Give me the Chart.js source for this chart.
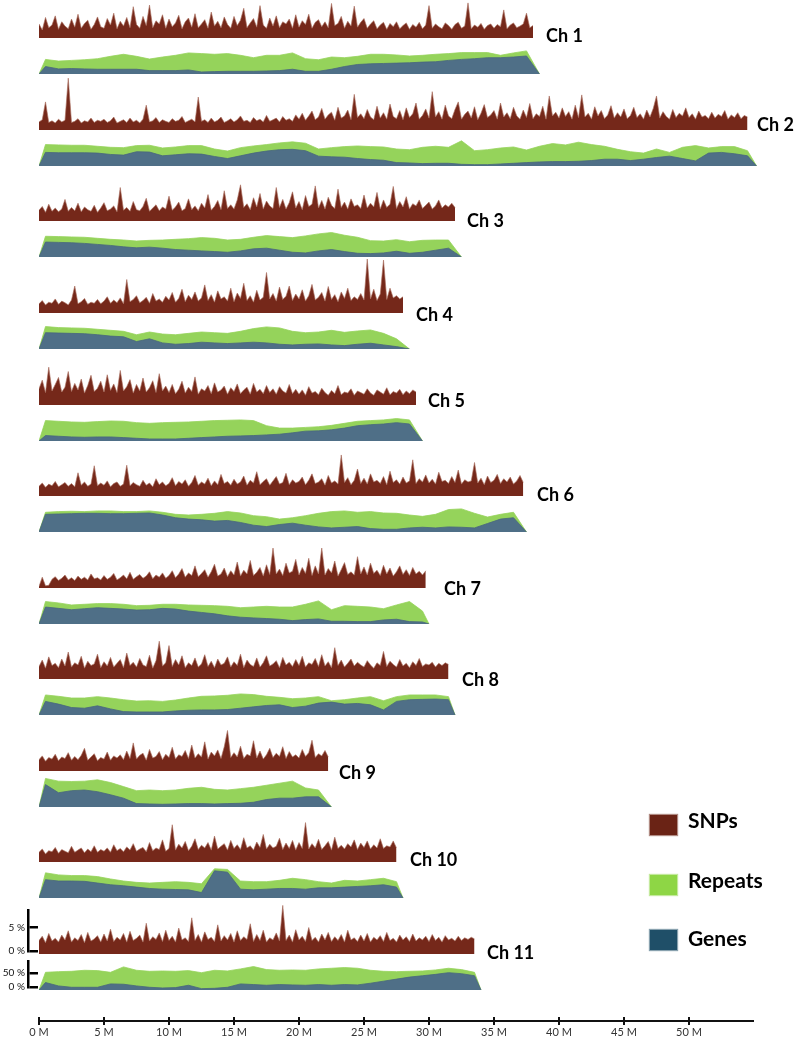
<!DOCTYPE html>
<html>
<head>
<meta charset="utf-8">
<script src="https://cdn.jsdelivr.net/npm/chart.js@4.4.1/dist/chart.umd.min.js"></script>
<style>
  html, body { margin: 0; padding: 0; background: #fff; }
  #root { position: relative; width: 796px; height: 1037px; overflow: hidden; background: #fff; font-family: Lato, "Open Sans", sans-serif; }
  #root canvas { position: absolute; }
  .chlbl { position: absolute; font: bold 18px Lato, sans-serif; color: #000; line-height: 18px; white-space: nowrap; }
  .lgsw { position: absolute; width: 27px; height: 20px; }
  .lgtx { position: absolute; font: bold 21px Lato, sans-serif; color: #000; line-height: 21px; white-space: nowrap; }
</style>
</head>
<body>
<div id="root"></div>
<script>
// ---------------- DATA ----------------
const chromNames = ['Ch 1','Ch 2','Ch 3','Ch 4','Ch 5','Ch 6','Ch 7','Ch 8','Ch 9','Ch 10','Ch 11'];
const chromLengthMb = [38.5, 55.2, 32.5, 28.5, 29.5, 37.5, 30.0, 32.0, 22.5, 28.0, 34.0];
const snpStepMb = 0.25;  // SNP density bins (%), first bin at 0 Mb
const binStepMb = 1;     // repeats / genes bins (%), centred at 0.5, 1.5, ...

const snpCh1 = [
  2.6,1.5,3.8,1.9,2.4,4.1,1.6,3.0,2.2,1.7,3.5,2.0,4.4,1.8,2.7,3.3,1.6,2.5,3.9,2.1,
  1.8,3.6,2.4,4.6,1.7,3.1,2.2,3.8,1.9,5.8,2.5,1.8,4.0,2.3,6.1,1.9,3.2,2.6,4.3,1.8,
  3.5,2.1,2.8,4.2,1.7,3.0,3.7,2.0,4.5,1.9,2.6,3.4,1.8,4.8,2.2,3.1,1.9,3.9,2.5,1.8,
  4.0,2.3,3.3,5.5,1.9,2.8,3.6,2.0,6.0,2.4,1.8,3.7,2.2,4.1,1.9,3.0,2.6,3.5,1.8,4.3,
  2.0,3.2,2.5,4.4,1.8,2.9,3.4,2.1,3.0,1.9,6.4,2.3,2.7,4.0,1.8,3.1,2.2,5.9,2.0,2.9,
  3.6,1.8,2.6,3.2,1.7,2.4,2.9,1.6,2.7,2.1,3.0,1.7,2.3,2.8,1.6,2.5,2.0,2.9,1.7,2.4,
  6.0,1.8,2.6,2.1,1.7,2.8,2.3,1.6,2.5,2.9,1.8,2.2,6.5,1.7,2.4,2.0,2.7,1.6,2.3,2.6,
  1.8,2.5,2.1,5.2,1.7,2.4,2.8,1.9,2.2,2.6,4.6,1.9,2.3];
const snpCh2 = [
  1.5,1.9,5.2,1.4,1.7,1.3,2.0,1.5,1.8,9.6,1.4,1.6,2.1,1.3,1.7,1.5,2.2,1.4,1.8,1.6,
  2.0,1.4,1.7,2.4,1.3,1.6,1.9,1.4,2.2,1.5,1.8,1.3,2.0,4.6,1.5,1.7,2.3,1.4,1.9,1.6,
  1.4,2.1,1.6,1.8,2.5,1.4,1.7,2.0,1.5,6.1,1.6,1.9,1.4,2.2,1.5,1.8,2.4,1.4,1.7,2.1,
  1.5,1.9,2.6,1.6,1.8,1.4,2.3,1.7,2.0,1.5,2.7,1.6,1.9,2.2,1.5,2.5,1.8,2.1,1.6,2.8,
  2.0,3.1,1.8,2.6,3.5,1.9,2.4,4.0,2.0,2.8,3.3,1.8,4.2,2.2,2.6,3.7,1.9,6.6,2.3,3.0,
  2.1,3.8,2.4,1.9,4.4,2.2,3.2,2.0,4.8,2.5,2.1,3.6,1.9,4.1,2.3,3.0,5.0,2.0,2.7,3.9,
  2.2,7.1,2.4,3.4,2.0,4.6,2.6,2.1,3.8,5.2,2.0,2.9,3.5,2.2,4.3,1.9,3.1,4.7,2.3,2.8,
  3.6,2.0,5.0,2.4,3.2,2.1,4.2,2.6,2.0,3.7,2.3,4.9,2.1,3.0,2.5,4.4,2.0,6.3,2.6,3.3,
  2.2,4.1,2.5,3.4,2.0,4.6,2.3,6.5,2.4,3.1,2.0,4.3,2.6,3.6,2.1,2.8,4.5,2.2,3.2,2.4,
  3.9,2.1,2.7,4.2,2.3,3.0,2.0,3.7,2.4,4.0,6.3,2.2,3.4,2.5,2.0,3.8,2.3,3.1,2.6,4.1,
  2.3,3.0,2.0,3.5,2.4,2.7,2.1,3.3,2.2,2.9,2.5,3.6,2.0,2.8,2.3,3.2,2.1,2.7,2.4];
const snpCh3 = [
  2.0,2.7,1.6,3.1,1.8,2.4,1.7,2.2,4.0,1.8,2.5,1.9,3.3,1.7,2.6,2.1,1.8,2.9,1.6,2.4,
  3.4,1.9,2.2,2.8,1.7,6.2,2.0,2.5,1.8,3.6,2.1,1.9,2.7,4.2,1.8,2.4,3.0,1.9,2.6,2.2,
  4.6,2.0,2.6,3.5,1.9,2.3,4.1,2.1,2.8,1.9,3.3,2.4,4.9,2.0,2.7,3.8,2.1,5.6,2.3,3.0,
  2.2,3.9,6.7,2.5,3.2,2.1,4.3,2.6,5.1,2.2,3.7,2.8,2.3,6.2,2.5,4.0,2.2,3.4,5.4,2.4,
  3.6,2.1,4.7,2.7,3.1,6.5,2.4,3.8,2.2,4.4,2.9,2.3,5.9,2.5,3.5,2.2,4.1,2.7,3.0,2.3,
  4.8,2.4,3.3,2.6,5.3,2.2,3.9,2.5,3.1,6.4,2.3,3.6,2.6,4.5,2.2,3.2,2.8,3.9,2.3,2.9,
  3.5,2.2,2.8,3.9,2.4,3.0,2.6,3.3,2.5];
const snpCh4 = [
  1.7,2.3,1.5,2.0,1.8,2.6,1.6,2.2,1.9,1.5,2.4,5.0,1.7,2.1,2.7,1.6,2.0,1.8,2.5,1.7,
  2.2,3.0,1.8,2.4,1.9,2.8,1.7,6.2,2.1,2.5,3.2,1.9,2.3,2.9,1.8,3.6,2.2,2.6,2.0,3.1,
  2.4,3.8,2.0,2.7,4.4,2.1,3.3,2.5,3.9,2.2,2.8,5.2,2.3,3.4,2.0,4.1,2.6,3.0,2.2,4.6,
  2.1,3.7,2.7,5.5,2.3,3.2,2.0,4.2,2.4,2.9,7.5,2.6,3.6,2.2,4.8,2.5,3.1,5.0,2.3,3.5,
  2.6,4.3,2.2,3.2,5.3,2.4,2.9,3.8,2.2,4.9,2.5,3.4,2.1,3.9,2.7,4.6,2.3,3.0,2.5,3.6,
  2.4,10.0,2.6,4.4,2.3,3.5,9.8,2.5,4.6,2.8,3.2,2.6,3.0];
const snpCh5 = [
  3.0,4.6,2.3,7.0,2.6,3.8,5.1,2.4,3.3,6.2,2.5,4.0,2.8,4.8,2.2,3.6,5.5,2.5,3.1,4.4,
  2.4,5.6,2.7,3.9,2.3,6.4,2.6,3.4,4.7,2.2,3.8,2.6,5.0,2.4,3.2,4.5,2.3,5.8,2.6,3.5,
  2.3,3.8,2.1,2.9,4.4,2.2,3.3,2.5,5.2,2.0,3.0,2.6,3.6,2.1,4.1,2.4,2.8,3.5,2.0,3.2,
  2.5,3.9,2.1,2.8,3.3,2.0,4.0,2.4,2.9,2.1,3.6,2.3,3.0,2.0,3.4,2.6,2.2,3.8,2.1,2.9,
  2.0,2.8,1.8,3.4,2.2,2.5,1.9,3.1,2.3,1.8,2.7,2.1,3.6,1.9,2.4,2.2,3.0,1.8,2.6,2.3,
  2.0,3.0,2.2,1.8,2.8,2.4,2.0,3.2,1.9,2.5,2.2,2.9,1.9,2.6,2.1,2.8,2.4];
const snpCh6 = [
  1.8,2.4,1.6,2.2,1.9,2.7,1.7,2.1,2.5,1.8,2.3,1.7,4.3,2.0,2.6,1.8,2.2,5.6,1.9,2.4,
  2.0,2.8,1.7,2.3,2.6,1.8,2.2,5.7,1.9,2.5,2.1,1.8,2.9,2.0,2.4,1.7,3.2,2.1,2.6,1.9,
  2.3,3.4,1.9,2.7,2.2,3.0,1.8,2.5,3.8,2.0,2.6,2.2,3.3,1.9,2.8,2.1,4.0,2.3,2.7,2.0,
  3.1,2.2,2.6,3.7,2.0,2.9,2.4,4.5,2.1,2.7,3.2,2.0,2.8,3.6,2.2,2.5,4.2,2.1,3.0,2.4,
  2.7,3.5,2.1,2.9,4.1,2.3,2.6,3.2,2.0,3.8,2.4,2.8,2.2,7.6,2.5,3.4,2.1,2.9,5.0,2.3,
  3.3,2.2,4.1,2.6,2.9,2.3,3.6,2.1,4.6,2.5,3.0,2.2,3.5,2.4,2.8,6.7,2.3,3.2,2.6,3.9,
  2.4,3.1,2.2,4.4,2.7,2.9,2.3,3.6,2.5,4.8,2.2,3.0,2.6,2.8,6.2,2.4,3.3,2.1,3.7,2.5,
  2.9,4.0,2.3,3.2,2.6,3.5,2.2,2.8,3.8,2.5];
const snpCh7 = [
  0.3,2.0,0.4,0.5,1.6,2.1,1.4,1.8,2.4,1.5,1.9,1.4,2.2,1.6,2.0,1.5,2.6,1.7,1.9,1.5,
  2.3,1.6,2.0,2.7,1.5,1.9,2.4,1.7,2.9,1.6,2.1,2.5,1.8,2.2,3.0,1.7,2.4,2.0,2.8,1.8,
  2.3,3.2,1.9,2.6,3.6,2.0,2.8,2.3,4.1,2.1,2.7,3.4,2.0,3.0,4.4,2.2,2.6,3.7,2.1,3.2,
  2.4,4.8,2.2,3.3,2.6,5.1,2.3,2.9,3.8,2.2,4.3,2.5,7.4,2.6,3.5,2.3,4.6,2.8,3.1,5.3,
  2.4,3.8,2.7,5.5,2.3,4.1,2.6,7.4,2.4,3.6,2.8,5.0,2.2,3.4,4.7,2.5,3.0,2.4,5.8,2.6,
  3.9,2.4,4.6,2.7,3.3,2.3,4.2,2.6,3.7,2.2,3.0,4.1,2.5,3.4,2.3,3.8,2.6,3.1,2.4,3.2];
const snpCh8 = [
  2.3,3.5,2.0,4.1,2.5,2.9,2.1,3.7,2.4,5.0,2.2,3.0,2.6,4.2,2.0,3.3,2.5,2.8,4.6,2.1,
  3.2,2.4,4.0,2.2,2.9,3.6,2.1,4.8,2.5,3.1,2.2,3.8,2.6,2.3,4.4,2.0,3.4,7.0,2.4,3.0,
  6.2,2.3,3.6,2.6,4.3,2.1,3.0,2.5,3.9,2.2,2.8,4.5,2.3,3.3,2.1,3.7,2.6,2.9,4.1,2.2,
  3.2,2.5,4.6,2.1,3.5,2.7,2.3,3.9,2.2,3.0,4.3,2.4,2.8,3.4,2.1,4.0,2.6,3.1,2.3,3.6,
  2.5,4.2,2.2,3.0,2.7,3.8,2.3,4.5,2.4,3.2,2.1,5.8,2.5,3.5,2.2,2.9,3.7,2.4,3.1,2.6,
  2.2,3.4,2.6,2.0,3.0,2.5,5.1,2.3,3.3,2.7,2.2,3.6,2.4,2.9,2.1,3.2,2.5,3.8,2.3,2.8,
  2.6,3.1,2.2,2.9,2.5,3.0,2.7];
const snpCh9 = [
  2.1,2.8,1.8,2.5,2.2,3.1,1.9,2.6,2.3,3.4,2.0,2.7,2.1,2.9,4.2,2.0,2.6,3.2,1.9,2.5,
  2.2,3.5,2.0,2.8,2.4,3.0,2.1,3.7,2.3,5.2,2.2,2.9,3.3,2.0,4.0,2.4,2.7,3.6,2.1,3.1,
  2.5,4.4,2.2,3.0,2.7,3.8,2.3,4.8,2.4,3.2,2.6,5.4,2.2,3.5,2.8,3.9,2.3,4.5,7.5,2.5,
  3.4,2.6,4.6,2.3,3.1,2.8,5.6,2.4,3.7,2.2,3.0,4.2,2.5,3.3,2.7,4.5,2.3,3.6,2.6,3.0,
  2.4,4.0,2.7,3.4,5.7,2.5,3.2,2.8,3.8,2.6];
const snpCh10 = [
  1.8,2.4,1.5,2.1,1.9,2.7,1.6,2.3,2.0,1.7,2.9,1.8,2.2,2.6,1.7,2.4,1.9,3.0,1.8,2.3,
  2.0,2.6,1.8,3.2,2.1,2.5,1.9,2.8,2.2,3.4,2.0,2.4,2.7,1.9,3.6,2.1,2.6,2.3,4.1,2.0,
  2.5,6.9,2.2,3.3,2.6,3.8,2.1,2.9,4.3,2.3,3.1,2.6,3.6,2.2,4.8,2.4,2.9,3.4,2.2,4.0,
  2.5,3.2,2.3,4.5,2.6,3.0,2.2,3.7,2.7,5.1,2.4,3.3,2.6,2.9,4.4,2.3,3.5,2.5,4.0,2.2,
  3.6,2.5,7.3,2.4,3.4,2.6,4.2,2.3,3.0,3.8,2.2,4.6,2.5,3.1,2.4,3.4,2.8,4.1,2.3,3.5,
  2.7,3.9,2.4,3.2,2.6,4.3,2.5,3.0,2.8,3.9,2.6];
const snpCh11 = [
  2.5,3.3,2.1,3.8,2.4,2.9,2.2,3.5,2.6,4.3,2.2,3.0,2.5,3.6,2.1,4.0,2.4,2.8,3.4,2.2,
  3.7,2.4,4.6,2.3,3.1,2.6,3.8,2.2,4.2,2.5,2.9,3.5,2.2,5.7,2.4,3.2,2.7,3.9,2.3,4.4,
  2.5,3.3,2.2,4.8,2.6,3.0,2.3,6.7,2.5,3.6,2.2,4.1,2.7,3.1,2.3,5.4,2.4,3.4,2.6,3.8,
  2.2,4.3,2.5,3.2,2.7,5.6,2.3,3.6,2.5,4.4,2.2,3.0,2.6,3.9,2.4,9.0,2.5,3.5,2.2,4.5,
  2.6,3.3,2.3,4.9,2.5,3.1,2.2,3.7,2.6,4.0,2.3,3.2,2.5,3.6,2.2,4.4,2.6,3.0,2.3,3.5,
  2.4,3.8,2.2,3.1,2.6,3.4,2.3,4.0,2.5,2.9,2.2,3.5,2.6,3.2,2.3,3.7,2.4,3.0,2.6,3.3,
  2.3,3.6,2.5,3.1,2.2,3.4,2.6,2.9,2.4,3.3,2.5,3.0,2.7,3.1,2.8];

const repeatsCh1 = [43,38,40,42,45,52,58,52,44,50,55,62,60,58,60,55,48,55,55,62,45,42,50,48,52,58,58,56,53,55,58,60,63,63,63,55,62,68];
const genesCh1   = [22,15,16,15,14,14,14,14,10,10,10,12,6,7,8,8,8,9,10,14,8,8,14,22,28,30,31,32,33,35,36,40,43,45,48,48,50,53];
const repeatsCh2 = [63,62,61,61,58,55,54,60,61,53,56,60,60,50,44,54,59,63,68,71,67,50,54,57,59,57,56,50,48,55,58,55,74,45,48,53,56,47,58,66,62,70,63,58,49,42,38,50,40,55,60,53,57,57,45];
const genesCh2   = [40,39,39,39,38,34,32,42,41,30,33,36,35,28,22,30,38,44,48,49,45,29,27,26,22,19,17,10,9,7,8,8,5,4,4,6,8,10,12,13,13,14,16,20,20,16,20,25,29,22,15,38,40,36,30];
const repeatsCh3 = [61,60,59,58,55,52,50,47,49,50,52,54,57,55,50,52,58,63,60,57,62,68,72,64,58,48,47,51,45,49,50,50];
const genesCh3   = [44,43,42,40,37,34,30,27,29,26,22,20,18,16,14,18,24,26,20,14,12,18,22,16,11,10,12,17,11,14,20,26];
const repeatsCh4 = [66,63,62,61,58,55,52,42,50,44,42,46,50,48,46,52,60,65,62,52,48,50,55,49,53,56,46,30];
const genesCh4   = [48,47,46,45,42,38,36,22,30,18,14,16,20,18,16,18,20,18,14,12,14,15,12,10,14,17,12,7];
const repeatsCh5 = [60,58,56,55,57,59,58,54,52,54,55,56,58,60,61,62,60,45,38,38,40,42,46,52,58,60,62,66,62];
const genesCh5   = [16,14,12,11,12,12,10,8,6,6,6,8,10,12,14,15,16,18,20,24,29,30,33,38,45,48,50,54,50];
const repeatsCh6 = [58,60,61,60,62,62,60,60,62,58,52,50,52,55,60,56,48,45,38,42,48,55,60,62,58,60,56,55,50,46,52,66,68,55,44,52,58];
const genesCh6   = [52,53,54,55,55,54,54,55,56,50,42,38,36,32,34,28,20,16,22,26,20,15,12,14,16,10,8,8,12,14,12,15,14,12,25,38,42];
const repeatsCh7 = [66,62,56,58,60,60,58,54,55,58,58,56,55,54,52,48,50,52,50,50,58,68,42,54,52,50,45,56,66,38];
const genesCh7   = [50,46,42,45,48,46,44,41,42,46,44,38,34,30,24,20,18,16,14,10,13,15,8,8,7,7,12,14,7,6];
const repeatsCh8 = [59,55,50,50,54,50,45,41,42,40,44,50,55,56,58,62,60,55,52,48,50,54,42,45,50,54,42,54,59,59,59,54];
const genesCh8   = [40,32,22,20,27,18,10,9,9,9,12,14,15,15,16,20,24,28,30,22,26,35,38,32,34,30,15,40,45,46,47,45];
const repeatsCh9 = [84,76,75,76,80,72,60,48,50,48,50,55,58,52,50,54,58,64,70,76,56,50];
const genesCh9   = [66,42,48,50,45,36,26,10,9,8,9,10,10,9,10,11,14,22,26,26,30,30];
const repeatsCh10 = [74,68,66,66,63,56,50,46,44,46,48,46,42,86,84,50,48,48,52,58,54,48,44,52,50,54,58,48];
const genesCh10   = [54,50,50,49,44,39,36,32,28,26,25,24,16,80,76,26,24,26,28,28,26,30,30,32,34,36,39,32];
const repeatsCh11 = [52,54,55,58,57,52,68,58,55,56,55,57,51,58,56,62,69,60,58,59,58,62,64,66,64,58,55,54,55,56,59,64,60,52];
const genesCh11   = [22,12,8,8,8,18,17,12,8,6,7,14,4,5,8,18,16,14,16,15,14,16,14,16,15,20,26,32,38,42,46,51,48,42];

const axisTickLabels = ['0 M','5 M','10 M','15 M','20 M','25 M','30 M','35 M','40 M','45 M','50 M'];
const snpScaleLabels = ['0 %','5 %'];
const repScaleLabels = ['0 %','50 %'];
const legendLabels = ['SNPs','Repeats','Genes'];

// ---------------- STYLE / LAYOUT ----------------
const colors = {
  snpFill: '#75281a', snpLine: 'rgba(170,110,95,0.8)',
  repFill: '#95d35b', geneFill: '#4f6f87', geneLine: '#48667d',
  legend: ['#6a2315', '#8ed645', '#1f4f68']
};
const L = {
  x0: 39, pxPerMb: 13, xMaxMb: 56, axisMaxMb: 54.9,
  base0: 38.3, pitch: 91.57,
  snpH: 58, snpPxPerPct: 5.4,
  repH: 36, repPxPerPct: 0.34
};
const labelLeft = [546,757,467,416,428,537,444,462,339,410,487];
const labelCy   = [35,124,220,314,400,494,588,679,772,859,952];

const snpData = [snpCh1,snpCh2,snpCh3,snpCh4,snpCh5,snpCh6,snpCh7,snpCh8,snpCh9,snpCh10,snpCh11];
const repData = [repeatsCh1,repeatsCh2,repeatsCh3,repeatsCh4,repeatsCh5,repeatsCh6,repeatsCh7,repeatsCh8,repeatsCh9,repeatsCh10,repeatsCh11];
const geneData = [genesCh1,genesCh2,genesCh3,genesCh4,genesCh5,genesCh6,genesCh7,genesCh8,genesCh9,genesCh10,genesCh11];

const root = document.getElementById('root');
function makeCanvas(left, top, w, h) {
  const c = document.createElement('canvas');
  c.width = w; c.height = h;
  c.style.left = left + 'px'; c.style.top = top + 'px';
  c.style.width = w + 'px'; c.style.height = h + 'px';
  root.appendChild(c);
  return c;
}
const baseOpts = (yMax) => ({
  responsive: false, animation: false, devicePixelRatio: 1,
  layout: { padding: 0 },
  plugins: { legend: { display: false }, tooltip: { enabled: false } },
  elements: { point: { radius: 0, hoverRadius: 0 }, line: { tension: 0 } },
  scales: {
    x: { type: 'linear', min: 0, max: L.xMaxMb, display: false },
    y: { type: 'linear', min: 0, max: yMax, display: false }
  }
});

const trackW = Math.round(L.xMaxMb * L.pxPerMb);
chromNames.forEach((name, k) => {
  const base = Math.round(L.base0 + L.pitch * k);
  // SNP track
  const snpPts = snpData[k].map((v, i) => ({ x: i * snpStepMb, y: v }));
  new Chart(makeCanvas(L.x0, base - L.snpH, trackW, L.snpH), {
    type: 'line',
    data: { datasets: [{ label: 'SNPs', data: snpPts, fill: 'origin', backgroundColor: colors.snpFill,
      borderColor: colors.snpLine, borderWidth: 0.8 }] },
    options: baseOpts(L.snpH / L.snpPxPerPct)
  });
  // Repeats + genes track
  const len = chromLengthMb[k];
  const toPts = arr => [{ x: 0, y: 0 }].concat(arr.map((v, i) => ({ x: (i + 0.5) * binStepMb, y: v })), [{ x: len, y: 0 }]);
  new Chart(makeCanvas(L.x0, base, trackW, L.repH), {
    type: 'line',
    data: { datasets: [
      { label: 'Genes', data: toPts(geneData[k]), fill: 'origin', backgroundColor: colors.geneFill, borderColor: colors.geneLine, borderWidth: 0.8 },
      { label: 'Repeats', data: toPts(repData[k]), fill: 'origin', backgroundColor: colors.repFill, borderColor: colors.repFill, borderWidth: 0.8 }
    ] },
    options: baseOpts(L.repH / L.repPxPerPct)
  });
  // chromosome label
  const d = document.createElement('div');
  d.className = 'chlbl';
  d.textContent = name;
  d.style.left = labelLeft[k] + 'px';
  d.style.top = (labelCy[k] - 9) + 'px';
  root.appendChild(d);
});

// ---------------- Scale bars (left of Ch 11) ----------------
function scaleChart(top, areaH, pxPerUnit, step, labels) {
  const pad = 6;
  const c = makeCanvas(0, top - pad, 40, areaH + 2 * pad);
  new Chart(c, {
    type: 'line',
    data: { datasets: [] },
    options: {
      responsive: false, animation: false, devicePixelRatio: 1,
      layout: { padding: { left: 0, right: 2, top: pad, bottom: pad } },
      plugins: { legend: { display: false }, tooltip: { enabled: false } },
      scales: {
        x: { type: 'linear', min: 0, max: 1, display: false },
        y: {
          type: 'linear', min: 0, max: areaH / pxPerUnit,
          afterFit: s => { s.width = 28; },
          ticks: { stepSize: step, includeBounds: false, padding: 3, color: '#111',
            font: { family: 'Lato', size: 10 },
            callback: (v, i) => labels[i] },
          grid: { drawOnChartArea: true, drawTicks: false, color: '#000', lineWidth: 2.5 },
          border: { display: true, color: '#000', width: 2.5 }
        }
      }
    }
  });
}
const base11 = Math.round(L.base0 + L.pitch * 10);
scaleChart(907, base11 - 907, L.snpPxPerPct, 5, snpScaleLabels);
scaleChart(base11 + 4, 32, L.repPxPerPct, 50, repScaleLabels);

// ---------------- Bottom position axis ----------------
{
  const areaW = L.axisMaxMb * L.pxPerMb;
  new Chart(makeCanvas(0, 1017, 796, 24), {
    type: 'line',
    data: { datasets: [] },
    options: {
      responsive: false, animation: false, devicePixelRatio: 1,
      layout: { padding: { left: L.x0, right: 796 - L.x0 - areaW, top: 0, bottom: 0 } },
      plugins: { legend: { display: false }, tooltip: { enabled: false } },
      scales: {
        x: {
          type: 'linear', position: 'bottom', min: 0, max: L.axisMaxMb,
          afterFit: s => { s.height = 20; },
          ticks: { stepSize: 5, includeBounds: false, autoSkip: false, maxRotation: 0, padding: 1,
            color: '#333', font: { family: 'Lato', size: 11 },
            callback: (v, i) => axisTickLabels[i] },
          grid: { drawOnChartArea: true, drawTicks: true, tickLength: 4, color: '#111', lineWidth: 2 },
          border: { display: true, color: '#111', width: 2 }
        },
        y: { min: 0, max: 1, display: false }
      }
    }
  });
}

// ---------------- Legend ----------------
const legendTop = [815, 875, 930];
const legendCy = [820, 880, 938];
legendLabels.forEach((t, i) => {
  const s = document.createElement('div');
  s.className = 'lgsw';
  s.style.left = '650px';
  s.style.top = legendTop[i] + 'px';
  s.style.background = colors.legend[i];
  s.style.boxShadow = '0 0 1px 1px ' + colors.legend[i] + '88';
  root.appendChild(s);
  const d = document.createElement('div');
  d.className = 'lgtx';
  d.textContent = t;
  d.style.left = '688px';
  d.style.top = (legendCy[i] - 11) + 'px';
  root.appendChild(d);
});
</script>
</body>
</html>
